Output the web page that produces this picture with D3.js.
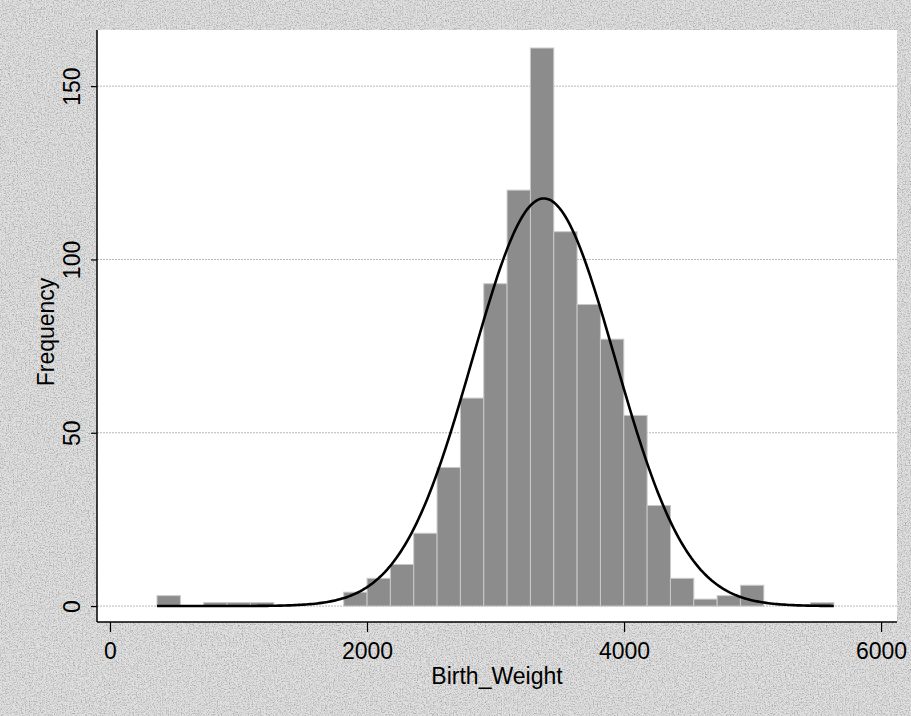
<!DOCTYPE html>
<html>
<head>
<meta charset="utf-8">
<script src="https://cdn.jsdelivr.net/npm/d3@7"></script>
<style>
  html, body { margin: 0; padding: 0; background: #cbcbcb; }
  svg { display: block; }
  text { font-family: "Liberation Sans", Arial, sans-serif; fill: #000; }
</style>
</head>
<body>
<svg id="chart" width="911" height="716"></svg>
<script>
// Birth weight histogram: 29 equal-width bins starting at binStart
const binStart = 366;
const binWidth = 181.6;
const counts = [3, 0, 1, 1, 1, 0, 0, 0, 4, 8, 12, 21, 40, 60, 93, 120, 161, 108, 87, 77, 55, 29, 8, 2, 3, 6, 0, 0, 1];

// Fitted normal overlay
const fitMean = 3376;
const fitSd = 555;

// Axis ticks and titles
const xTicks = [0, 2000, 4000, 6000];
const yTicks = [0, 50, 100, 150];
const xTitle = "Birth_Weight";
const yTitle = "Frequency";

const W = 911, H = 716;
const plot = { left: 97, right: 897, top: 30, bottom: 622 };

const svg = d3.select("#chart");

// grainy grey surround
const defs = svg.append("defs");
const grain = defs.append("filter").attr("id", "grain")
  .attr("x", 0).attr("y", 0).attr("width", "100%").attr("height", "100%")
  .attr("color-interpolation-filters", "sRGB");
grain.append("feTurbulence").attr("type", "fractalNoise")
  .attr("baseFrequency", 0.75).attr("numOctaves", 2).attr("seed", 11).attr("result", "n");
grain.append("feColorMatrix").attr("in", "n").attr("type", "matrix")
  .attr("values", "0.33 0.33 0.33 0 0  0.33 0.33 0.33 0 0  0.33 0.33 0.33 0 0  0 0 0 0 1")
  .attr("result", "g");
const ct = grain.append("feComponentTransfer").attr("in", "g");
["feFuncR", "feFuncG", "feFuncB"].forEach(f =>
  ct.append(f).attr("type", "linear").attr("slope", 2.2).attr("intercept", -0.2));

svg.append("rect").attr("width", W).attr("height", H).attr("fill", "#cdcdcd");
svg.append("rect").attr("width", W).attr("height", H)
  .attr("filter", "url(#grain)").attr("opacity", 0.4);

// white plot region
svg.append("rect")
  .attr("x", plot.left).attr("y", plot.top)
  .attr("width", plot.right - plot.left).attr("height", plot.bottom - plot.top)
  .attr("fill", "#fff");

const x = d3.scaleLinear().domain([-101, 6124]).range([plot.left, plot.right]);
const y = d3.scaleLinear().domain([-4.6, 166.2]).range([plot.bottom, plot.top]);

// horizontal grid lines
svg.append("g").selectAll("line").data(yTicks).join("line")
  .attr("x1", plot.left).attr("x2", plot.right)
  .attr("y1", d => y(d)).attr("y2", d => y(d))
  .attr("stroke", "#b8b8b8").attr("stroke-width", 1)
  .attr("stroke-dasharray", "2,1");

// bars
const bins = counts.map((c, i) => ({ x0: binStart + i * binWidth, x1: binStart + (i + 1) * binWidth, n: c }));
svg.append("g").selectAll("rect").data(bins.filter(b => b.n > 0)).join("rect")
  .attr("x", d => x(d.x0)).attr("width", d => x(d.x1) - x(d.x0))
  .attr("y", d => y(d.n)).attr("height", d => y(0) - y(d.n))
  .attr("fill", "#8c8c8c").attr("stroke", "#c9c9c9").attr("stroke-width", 1);

// normal density scaled to frequencies
const total = d3.sum(counts);
const xMin = binStart, xMax = binStart + counts.length * binWidth;
const curvePts = d3.range(0, 301).map(k => {
  const v = xMin + (xMax - xMin) * k / 300;
  const z = (v - fitMean) / fitSd;
  return [v, total * binWidth * Math.exp(-0.5 * z * z) / (fitSd * Math.sqrt(2 * Math.PI))];
});
svg.append("path").datum(curvePts)
  .attr("fill", "none").attr("stroke", "#000").attr("stroke-width", 2.6)
  .attr("d", d3.line().x(d => x(d[0])).y(d => y(d[1])));

// axes
const xAxis = svg.append("g").attr("transform", `translate(0,${plot.bottom})`)
  .call(d3.axisBottom(x).tickValues(xTicks).tickSize(10).tickPadding(10).tickFormat(d3.format("d")));
xAxis.select(".domain").attr("d", `M${plot.left},0H${plot.right}`).attr("stroke", "#000").attr("stroke-width", 1.5);
xAxis.selectAll(".tick line").attr("stroke", "#000").attr("stroke-width", 1.2);
xAxis.selectAll("text").attr("font-size", 23).attr("dy", "0.72em");

const yAxis = svg.append("g").attr("transform", `translate(${plot.left},0)`)
  .call(d3.axisLeft(y).tickValues(yTicks).tickSize(6).tickPadding(0).tickFormat(d3.format("d")));
yAxis.select(".domain").attr("d", `M0,${plot.top}V${plot.bottom}`).attr("stroke", "#000").attr("stroke-width", 1.5);
yAxis.selectAll(".tick line").attr("stroke", "#000").attr("stroke-width", 1.2);
yAxis.selectAll("text")
  .attr("font-size", 23)
  .attr("text-anchor", "middle")
  .attr("x", 0).attr("dy", 0)
  .attr("transform", "translate(-17,0) rotate(-90)");

// titles
svg.append("text").attr("x", (plot.left + plot.right) / 2).attr("y", 684)
  .attr("text-anchor", "middle").attr("font-size", 23).text(xTitle);
svg.append("text").attr("transform", `translate(54,332) rotate(-90)`)
  .attr("text-anchor", "middle").attr("font-size", 23).text(yTitle);
</script>
</body>
</html>
